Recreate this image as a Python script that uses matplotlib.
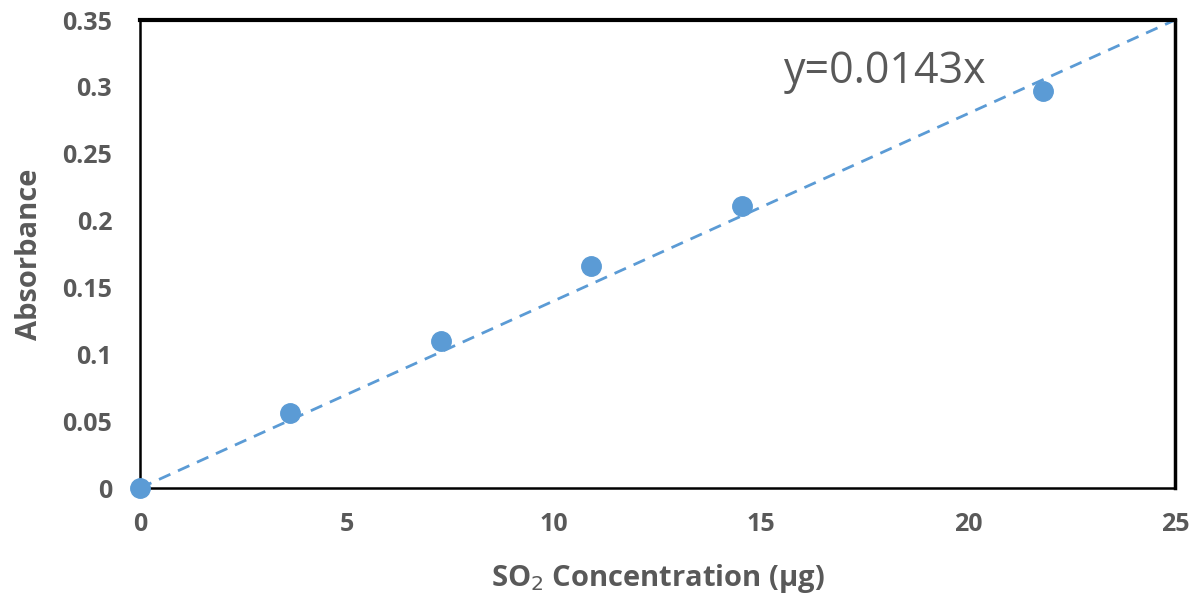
import matplotlib
matplotlib.use("Agg")
import matplotlib.pyplot as plt

conc = [0, 3.63, 7.27, 10.9, 14.53, 21.8]
absorb = [0, 0.056, 0.110, 0.166, 0.211, 0.297]
trend_x = [0, 25]
trend_y = [0, 0.35]
equation = 'y=0.0143x'
xticks = [0, 5, 10, 15, 20, 25]
yticks = [0, 0.05, 0.1, 0.15, 0.2, 0.25, 0.3, 0.35]
yticklabels = ["0", "0.05", "0.1", "0.15", "0.2", "0.25", "0.3", "0.35"]

plt.rcParams['font.family'] = ['Open Sans', 'DejaVu Sans']
grey = '#595959'
blue = '#5B9BD5'

fig = plt.figure(figsize=(12.04, 5.99), dpi=100)
ax = fig.add_axes([140/1204, 111/599, 1035/1204, 468/599])

ax.plot(trend_x, trend_y, '--', color=blue, lw=2, dashes=(4.5, 3), zorder=2)
ax.plot(conc, absorb, 'o', color=blue, ms=14, zorder=3, clip_on=False)

ax.set_xlim(0, 25)
ax.set_ylim(0, 0.35)
ax.set_xticks(xticks)
ax.set_xticklabels([str(t) for t in xticks])
ax.set_yticks(yticks)
ax.set_yticklabels(yticklabels)
ax.tick_params(length=0, labelsize=18, labelcolor=grey)
ax.tick_params(axis='x', pad=17)
ax.tick_params(axis='y', pad=20)
for lab in ax.get_xticklabels() + ax.get_yticklabels():
    lab.set_fontweight('bold')

ax.spines['top'].set_linewidth(3)
ax.spines['right'].set_linewidth(2.5)
ax.spines['left'].set_linewidth(1.8)
ax.spines['bottom'].set_linewidth(1.8)
for s in ax.spines.values():
    s.set_color('black')

ax.set_xlabel('SO$_2$ Concentration (μg)', fontsize=21, fontweight='bold', color=grey, labelpad=18)
ax.set_ylabel('Absorbance', fontsize=21, fontweight='bold', color=grey, labelpad=13)

ax.text(15.55, 0.311, equation, fontsize=31, color=grey, va='center', ha='left')

fig.savefig('out.png', dpi=100)
